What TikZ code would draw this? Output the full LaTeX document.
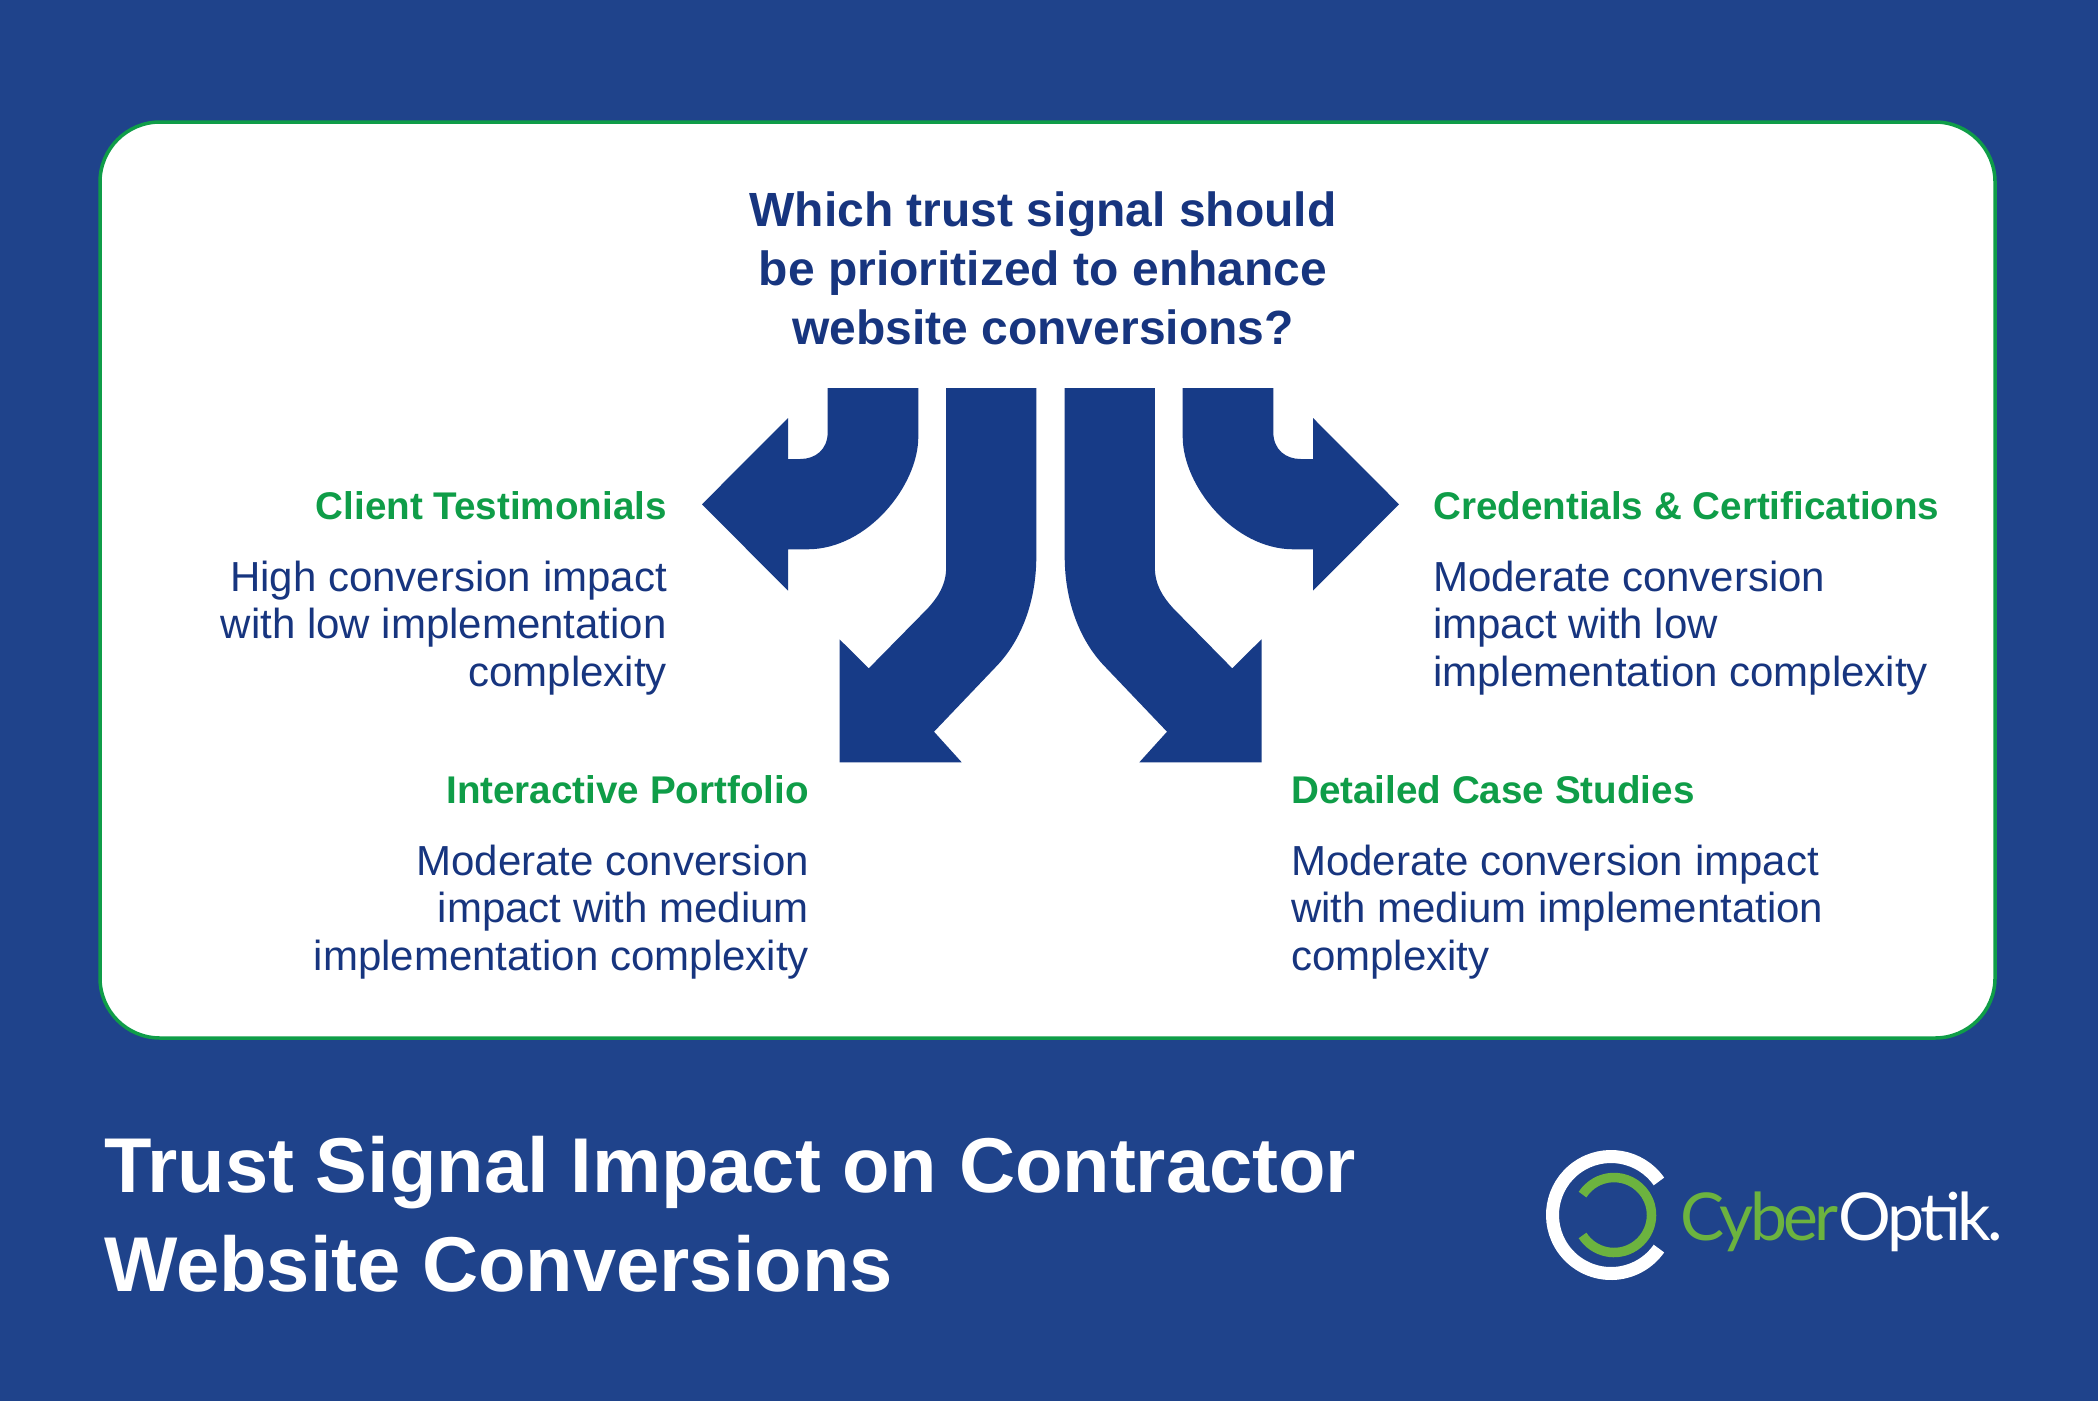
\documentclass[tikz,border=0pt]{standalone}
\usepackage{fontspec}
\setmainfont{Liberation Sans}
\newfontfamily\logofont[LetterSpace=-5.5]{Lato}
\definecolor{pagecol}{HTML}{1F438B}
\definecolor{arrowcol}{HTML}{173B87}
\definecolor{inkcol}{HTML}{17357F}
\definecolor{greencol}{HTML}{0F9D48}
\definecolor{logocol}{HTML}{6CB33F}
\tikzset{
    question/.style={text=inkcol, font=\fontsize{48}{59}\selectfont\bfseries, align=center, inner sep=0pt},
    optname/.style={text=greencol, font=\fontsize{38.6}{47}\selectfont\bfseries, inner sep=0pt},
    optbody/.style={text=inkcol, font=\fontsize{42}{47.3}\selectfont, inner sep=0pt},
    headline/.style={text=white, font=\fontsize{77.7}{99}\selectfont\bfseries, align=left, inner sep=0pt},
    arrowshape/.style={fill=arrowcol, draw=none},
}
\newcommand{\sidearrow}{
    (827.7,388) -- (827.7,432) .. controls (827.7,450) and (815,459) .. (800.3,459)
    -- (788,459) -- (788,418) -- (702,504.3) -- (788,590.7) -- (788,549.3) -- (807.4,549.3)
    .. controls (868,549.3) and (918.3,485) .. (918.3,437) -- (918.3,388) -- cycle}
\newcommand{\lowerarrow}{
    (946.2,388) -- (946.2,566.7) .. controls (946.2,585) and (938,597) .. (927.8,608.3)
    -- (868.8,668.3) -- (839.5,639.3) -- (839.5,762.3) -- (961.7,762.3) -- (934,731.7)
    -- (996,666.7) .. controls (1022,640) and (1036.3,600) .. (1036.3,556.7) -- (1036.3,388) -- cycle}
\begin{document}
\begin{tikzpicture}[x=1pt, y=-1pt]
    \useasboundingbox (0,0) rectangle (2098,1400);
    %page and card
    \fill[pagecol] (-2,-2) rectangle (2100,1402);
    \draw[greencol, line width=3.5pt, fill=white, rounded corners=60pt] (100,122) rectangle (1995,1038);
    %question
    \node[question, anchor=north] (ask) at (1043,192) {Which trust signal should\\be prioritized to enhance\\website conversions?};
    %draw arrows
    \fill[arrowshape] \sidearrow;
    \fill[arrowshape] \lowerarrow;
    \begin{scope}[xshift=2101pt, xscale=-1]
        \fill[arrowshape] \sidearrow;
        \fill[arrowshape] \lowerarrow;
    \end{scope}
    %label client testimonials
    \node[optname, anchor=base east] (clientname) at (667,519) {Client Testimonials};
    \node[optbody, anchor=north east, align=right] (clientbody) at (667,561) {High conversion impact\\with low implementation\\complexity};
    %label credentials
    \node[optname, anchor=base west] (credname) at (1433,519) {Credentials \& Certifications};
    \node[optbody, anchor=north west, align=left] (credbody) at (1433,561) {Moderate conversion\\impact with low\\implementation complexity};
    %label portfolio
    \node[optname, anchor=base east] (portname) at (809,803) {Interactive Portfolio};
    \node[optbody, anchor=north east, align=right] (portbody) at (809,845) {Moderate conversion\\impact with medium\\implementation complexity};
    %label case studies
    \node[optname, anchor=base west] (casename) at (1291,803) {Detailed Case Studies};
    \node[optbody, anchor=north west, align=left] (casebody) at (1291,845) {Moderate conversion impact\\with medium implementation\\complexity};
    %title
    \node[headline, anchor=north west] (title) at (104,1136) {Trust Signal Impact on Contractor\\Website Conversions};
    %logo
    \draw[white, line width=13pt] (1611,1215) ++(35:58.5pt) arc[start angle=35, end angle=325, radius=58.5pt];
    \draw[logocol, line width=9.5pt] (1614,1215) ++(-147:37.5pt) arc[start angle=-147, end angle=147, radius=37.5pt];
    \node[anchor=base west, inner sep=0pt, font=\fontsize{66}{66}\logofont] (logo) at (1680,1240) {\textcolor{logocol}{Cyber}\textcolor{white}{Optik.}};
\end{tikzpicture}
\end{document}
